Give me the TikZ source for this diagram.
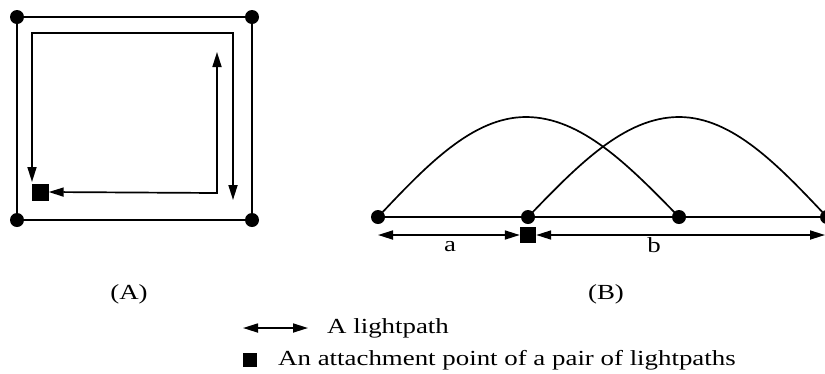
\documentclass[tikz,border=0pt]{standalone}
\usepackage{fontspec}
\setmainfont{Liberation Serif}
\usepackage{graphicx}
\usetikzlibrary{arrows.meta}
\newcommand{\widetxt}[1]{\scalebox{1.25}[1]{#1}}
\tikzset{
  dot/.style={circle,fill=black,inner sep=0pt,minimum size=14pt},
  sq/.style={rectangle,fill=black,inner sep=0pt,minimum size=#1},
  sq/.default=16pt,
  link/.style={line width=1.7pt},
  lp/.style={line width=1.7pt,{Triangle[length=15pt,width=9pt]}-{Triangle[length=15pt,width=9pt]}},
  lbl/.style={font=\fontsize{21.5}{24}\selectfont,inner sep=0pt},
}
\begin{document}
\begin{tikzpicture}[x=1pt,y=-1pt]
\useasboundingbox (0,0) rectangle (825,373);
% ---- Panel A ----
\node[dot] (A1) at (17,17) {};
\node[dot] (A2) at (252,17) {};
\node[dot] (A3) at (17,220) {};
\node[dot] (A4) at (252,220) {};
\draw[link] (A1.center) -- (A2.center) -- (A4.center) -- (A3.center) -- cycle;
\node[sq=17pt] (sqA) at (40,192) {};
\coordinate (p1s) at (233,200);
\coordinate (p1e) at (32,182);
\draw[lp] (p1s) -- (233,33) -- (32,33) -- (p1e);
\coordinate (p2s) at (217,52);
\draw[lp] (p2s) -- (217,193) -- (sqA.east);
\node[lbl] (labA) at (129,294) {\widetxt{(A)}};
% ---- Panel B ----
\node[dot] (B1) at (378,217) {};
\node[dot] (B2) at (528,217) {};
\node[dot] (B3) at (679,217) {};
\node[dot] (B4) at (827,217) {};
\draw[link] (B1.center) -- (B4.center);
\draw[link] (B1.center) sin (526,117) cos (B3.center);
\draw[link] (B2.center) sin (679,117) cos (B4.center);
\node[sq] (sqB) at (528,235) {};
\coordinate (L) at (378,235);
\coordinate (R) at (825,235);
\draw[lp] (L) -- (sqB.west);
\draw[lp] (sqB.east) -- (R);
\node[lbl] (la) at (450,247) {\widetxt{a}};
\node[lbl] (lb) at (654,245) {\widetxt{b}};
\node[lbl] (labB) at (606,294) {\widetxt{(B)}};
% ---- Legend ----
\coordinate (g1) at (243,328);
\coordinate (g2) at (308,328);
\draw[lp] (g1) -- (g2);
\node[lbl,anchor=west] (t1) at (327,328) {\widetxt{A lightpath}};
\node[sq=14pt] (gsq) at (250,360) {};
\node[lbl,anchor=west] (t2) at (278,360) {\widetxt{An attachment point of a pair of lightpaths}};
\end{tikzpicture}
\end{document}
